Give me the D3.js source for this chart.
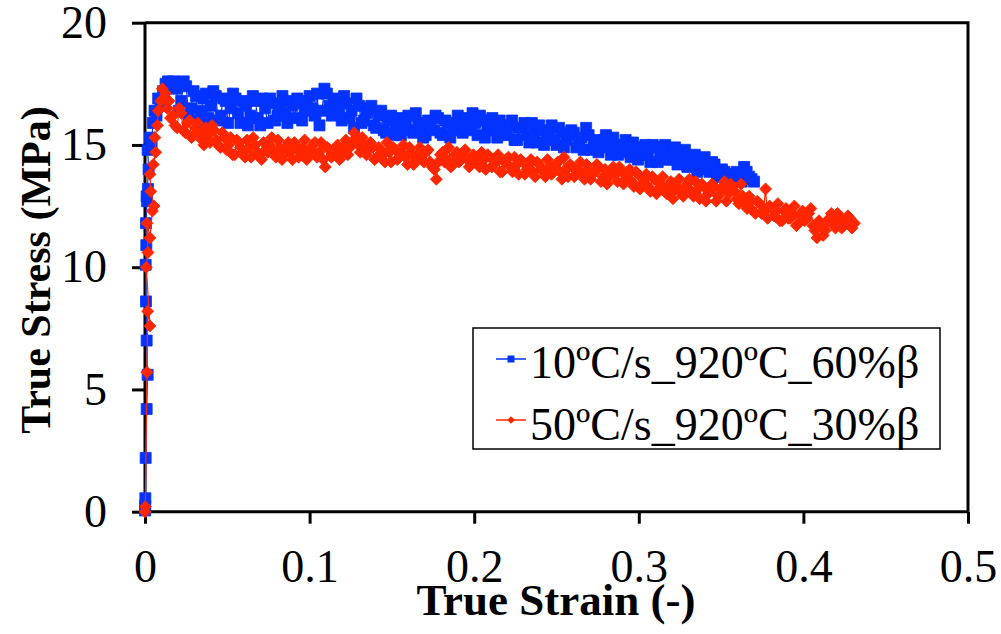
<!DOCTYPE html>
<html>
<head>
<meta charset="utf-8">
<script src="https://cdn.jsdelivr.net/npm/d3@7"></script>
<style>
  body { margin: 0; background: #fff; }
  text { font-family: "Liberation Serif", "Times New Roman", serif; fill: #000; }
</style>
</head>
<body>
<div id="chart"></div>
<script>
// Stress-strain data: [strain, stress MPa]
// elastic rise, kept in recorded order
let blueRise = [
    [0.0000, 0.05], [0.0001, 0.25], [0.0002, 0.55], [0.0004, 2.2], [0.0010, 4.2], [0.0016, 5.6],
    [0.0010, 7.0], [0.0006, 8.6], [0.0004, 10.1], [0.0008, 10.9], [0.0006, 11.8], [0.0012, 12.7],
    [0.0018, 13.2], [0.0010, 12.9], [0.0022, 14.0], [0.0016, 14.8], [0.0030, 15.3], [0.0040, 15.0],
    [0.0048, 15.9], [0.0058, 16.4], [0.0070, 16.2], [0.0080, 16.9], [0.0095, 16.6], [0.0110, 17.2],
    [0.0125, 17.5], [0.0140, 17.6], [0.0155, 17.4], [0.0170, 17.6]
];
let bluePlateau = [
    [0.019, 17.3], [0.022, 16.8], [0.025, 17.4], [0.028, 16.5], [0.031, 17.0], [0.034, 16.4],
    [0.037, 17.1], [0.040, 16.6], [0.043, 17.0], [0.046, 16.2], [0.049, 16.8], [0.052, 16.5],
    [0.055, 16.9], [0.058, 15.9], [0.061, 16.6], [0.064, 16.2], [0.067, 16.8], [0.070, 15.8],
    [0.073, 16.5], [0.076, 16.9], [0.079, 16.0], [0.082, 16.6], [0.085, 16.3], [0.088, 16.8],
    [0.091, 16.1], [0.094, 16.7], [0.097, 16.4], [0.100, 17.0], [0.103, 16.2], [0.106, 15.8],
    [0.109, 17.3], [0.112, 16.6], [0.115, 16.9], [0.118, 16.3], [0.121, 17.0], [0.124, 16.1],
    [0.127, 15.7], [0.130, 16.6], [0.133, 16.0], [0.136, 16.5], [0.139, 15.8], [0.142, 16.2],
    [0.145, 15.6], [0.148, 16.0], [0.151, 15.4], [0.154, 16.1], [0.157, 15.7], [0.160, 16.2],
    [0.163, 15.5], [0.166, 15.9], [0.169, 15.3], [0.172, 16.0], [0.175, 15.6], [0.178, 16.1],
    [0.181, 15.4], [0.184, 15.9], [0.187, 15.6], [0.190, 16.2], [0.193, 15.5], [0.196, 15.9],
    [0.199, 16.3], [0.202, 15.4], [0.205, 16.0], [0.208, 15.6], [0.211, 16.1], [0.214, 15.3],
    [0.217, 15.8], [0.220, 15.5], [0.223, 16.0], [0.226, 15.2], [0.229, 15.7], [0.232, 15.4],
    [0.235, 15.9], [0.238, 15.1], [0.241, 15.6], [0.244, 15.3], [0.247, 15.8], [0.250, 15.0],
    [0.253, 15.5], [0.256, 15.2], [0.259, 15.6], [0.262, 14.9], [0.265, 15.3], [0.268, 15.7],
    [0.271, 14.8], [0.274, 15.2], [0.277, 15.0], [0.280, 15.4], [0.283, 14.6], [0.286, 15.0],
    [0.289, 14.8], [0.292, 15.2], [0.295, 14.5], [0.298, 14.9], [0.301, 14.6], [0.304, 15.0],
    [0.307, 14.3], [0.310, 14.9], [0.313, 14.6], [0.316, 15.0], [0.319, 14.4], [0.322, 14.9],
    [0.325, 14.4], [0.328, 14.8], [0.331, 14.2], [0.334, 14.6], [0.337, 14.2], [0.340, 14.5],
    [0.343, 13.9], [0.346, 14.2], [0.349, 13.7], [0.352, 13.9], [0.355, 13.5], [0.358, 13.8],
    [0.361, 13.6], [0.364, 14.1], [0.367, 13.7], [0.370, 13.5]
];
// in-between readings of the blue band
let blueExtra = [
    [0.0205, 16.4], [0.0235, 17.6], [0.0265, 16.2], [0.0295, 17.2], [0.0325, 16.0], [0.0355, 16.9],
    [0.0385, 16.1], [0.0415, 17.2], [0.0445, 16.0], [0.0475, 16.9], [0.0505, 15.9], [0.0535, 17.1],
    [0.0565, 16.3], [0.0595, 16.8], [0.0625, 15.8], [0.0655, 17.0], [0.0685, 16.1], [0.0715, 16.9],
    [0.0745, 15.9], [0.0775, 16.7], [0.0805, 16.2], [0.0835, 17.0], [0.0865, 15.9], [0.0895, 16.6],
    [0.0925, 16.9], [0.0955, 16.0], [0.0985, 16.8], [0.1015, 16.5], [0.1045, 17.1], [0.1075, 16.4],
    [0.1105, 17.1], [0.1135, 16.2], [0.1165, 16.7], [0.1195, 16.0], [0.1225, 16.7], [0.1255, 16.4],
    [0.1285, 16.9], [0.1315, 15.9], [0.1345, 16.3], [0.1375, 16.6], [0.1405, 15.7], [0.1435, 16.4],
    [0.1465, 15.5], [0.1495, 16.2], [0.1525, 15.8], [0.1555, 15.4], [0.1585, 16.0], [0.1615, 15.6],
    [0.1645, 16.3], [0.1675, 15.7], [0.1705, 15.4], [0.1735, 15.8], [0.1765, 16.2], [0.1795, 15.5],
    [0.1825, 16.0], [0.1855, 15.3], [0.1885, 15.9], [0.1915, 15.7], [0.1945, 16.1], [0.1975, 15.6],
    [0.2005, 15.9], [0.2035, 16.2], [0.2065, 15.3], [0.2095, 15.9], [0.2125, 15.6], [0.2155, 16.0],
    [0.2185, 15.4], [0.2215, 15.8], [0.2245, 15.2], [0.2275, 15.7], [0.2305, 15.9], [0.2335, 15.1],
    [0.2365, 15.5], [0.2395, 15.8], [0.2425, 15.0], [0.2455, 15.5], [0.2485, 15.2], [0.2515, 15.7],
    [0.2545, 14.9], [0.2575, 15.4], [0.2605, 15.5], [0.2635, 15.0], [0.2665, 14.8], [0.2695, 15.4],
    [0.2725, 15.0], [0.2755, 14.7], [0.2785, 15.2], [0.2815, 14.9], [0.2845, 15.3], [0.2875, 14.6],
    [0.2905, 15.0], [0.2935, 14.7], [0.2965, 15.1], [0.2995, 14.4], [0.3025, 14.9], [0.3055, 14.6],
    [0.3085, 15.0], [0.3115, 14.3], [0.3145, 14.7], [0.3175, 14.4], [0.3205, 14.8], [0.3235, 14.2],
    [0.3265, 14.6], [0.3295, 14.1], [0.3325, 14.5], [0.3355, 13.9], [0.3385, 14.3], [0.3415, 14.0],
    [0.3445, 14.3], [0.3475, 13.7], [0.3505, 14.0], [0.3535, 13.8], [0.3565, 13.6], [0.3595, 13.9],
    [0.3625, 13.5], [0.3655, 13.9], [0.3685, 13.6]
];

let redRise = [
    [0.0000, 0.0], [0.0002, 0.2], [0.0012, 5.7], [0.0016, 8.2], [0.0030, 7.6], [0.0008, 10.0],
    [0.0018, 10.6], [0.0012, 11.8], [0.0030, 11.2], [0.0045, 12.3], [0.0055, 12.5], [0.0035, 13.1],
    [0.0030, 13.8], [0.0050, 14.2], [0.0065, 14.7], [0.0060, 15.3], [0.0075, 15.8], [0.0080, 16.4],
    [0.0095, 16.8], [0.0105, 17.3], [0.0115, 16.9], [0.0125, 17.1], [0.0135, 16.5], [0.0145, 16.8],
    [0.0155, 16.1]
];
let redPlateau = [
    [0.0170, 16.2], [0.0195, 15.7], [0.0220, 16.3], [0.0245, 15.5], [0.0270, 16.0], [0.0295, 15.4],
    [0.0320, 15.9], [0.0345, 15.2], [0.0370, 15.7], [0.0395, 15.1], [0.0420, 15.6], [0.0445, 15.0],
    [0.0470, 15.5], [0.0495, 14.8], [0.0520, 15.3], [0.0545, 14.6], [0.0570, 15.1], [0.0595, 14.7],
    [0.0620, 15.2], [0.0645, 14.5], [0.0670, 15.0], [0.0695, 14.6], [0.0720, 15.1], [0.0745, 14.7],
    [0.0770, 15.3], [0.0795, 14.5], [0.0820, 14.9], [0.0845, 14.6], [0.0870, 15.1], [0.0895, 14.4],
    [0.0920, 14.9], [0.0945, 14.7], [0.0970, 15.2], [0.0995, 14.6], [0.1020, 15.0], [0.1045, 14.5],
    [0.1070, 15.1], [0.1095, 14.1], [0.1120, 14.8], [0.1145, 14.6], [0.1170, 15.0], [0.1195, 14.7],
    [0.1220, 15.2], [0.1245, 14.9], [0.1270, 15.5], [0.1295, 15.0], [0.1320, 15.3], [0.1345, 14.6],
    [0.1370, 15.1], [0.1395, 14.4], [0.1420, 14.9], [0.1445, 14.6], [0.1470, 15.1], [0.1495, 14.3],
    [0.1520, 14.8], [0.1545, 14.5], [0.1570, 15.0], [0.1595, 14.2], [0.1620, 14.7], [0.1645, 14.4],
    [0.1670, 14.9], [0.1695, 14.3], [0.1720, 14.8], [0.1745, 14.1], [0.1770, 13.6], [0.1795, 14.6],
    [0.1820, 14.3], [0.1845, 14.9], [0.1870, 14.2], [0.1895, 14.7], [0.1920, 14.4], [0.1945, 14.8],
    [0.1970, 14.1], [0.1995, 14.6], [0.2020, 14.3], [0.2045, 14.7], [0.2070, 14.0], [0.2095, 14.5],
    [0.2120, 14.2], [0.2145, 14.6], [0.2170, 13.9], [0.2195, 14.4], [0.2220, 14.1], [0.2245, 14.5],
    [0.2270, 13.8], [0.2295, 14.3], [0.2320, 14.0], [0.2345, 14.4], [0.2370, 13.7], [0.2395, 14.2],
    [0.2420, 13.9], [0.2445, 14.4], [0.2470, 13.8], [0.2495, 14.2], [0.2520, 13.9], [0.2545, 14.5],
    [0.2570, 13.7], [0.2595, 14.1], [0.2620, 13.8], [0.2645, 14.3], [0.2670, 13.6], [0.2695, 14.0],
    [0.2720, 13.8], [0.2745, 14.2], [0.2770, 13.5], [0.2795, 14.0], [0.2820, 13.7], [0.2845, 14.1],
    [0.2870, 13.5], [0.2895, 13.9], [0.2920, 13.6], [0.2945, 14.0], [0.2970, 13.3], [0.2995, 13.8],
    [0.3020, 13.4], [0.3045, 13.8], [0.3070, 13.1], [0.3095, 13.6], [0.3120, 13.2], [0.3145, 13.7],
    [0.3170, 13.0], [0.3195, 13.5], [0.3220, 13.2], [0.3245, 13.6], [0.3270, 12.9], [0.3295, 13.4],
    [0.3320, 13.1], [0.3345, 13.5], [0.3370, 12.8], [0.3395, 13.3], [0.3420, 13.0], [0.3445, 13.4],
    [0.3470, 12.7], [0.3495, 13.2], [0.3520, 13.5], [0.3545, 13.0], [0.3570, 13.3], [0.3595, 12.8],
    [0.3620, 13.4], [0.3645, 12.6], [0.3670, 12.9], [0.3695, 12.3], [0.3720, 12.7], [0.3745, 12.2],
    [0.3770, 13.2], [0.3795, 12.5], [0.3820, 12.1], [0.3845, 12.6], [0.3870, 11.9], [0.3895, 12.4],
    [0.3920, 12.0], [0.3945, 12.5], [0.3970, 11.8], [0.3995, 12.3], [0.4020, 12.0], [0.4045, 12.4],
    [0.4070, 11.5], [0.4095, 11.9], [0.4120, 11.3], [0.4145, 11.8], [0.4170, 12.2], [0.4195, 11.6],
    [0.4220, 12.0], [0.4245, 11.7], [0.4270, 12.1], [0.4295, 11.6], [0.4310, 11.8]
];
// in-between readings of the red band
let redExtra = [
    [0.01825, 15.8], [0.02075, 16.5], [0.02325, 15.6], [0.02575, 15.9], [0.02825, 15.3], [0.03075, 15.7],
    [0.03325, 15.5], [0.03575, 15.0], [0.03825, 15.4], [0.04075, 15.8], [0.04325, 15.2], [0.04575, 14.9],
    [0.04825, 15.3], [0.05075, 15.0], [0.05325, 14.6], [0.05575, 15.2], [0.05825, 14.9], [0.06075, 14.5],
    [0.06325, 14.9], [0.06575, 15.3], [0.06825, 14.7], [0.07075, 14.4], [0.07325, 14.8], [0.07575, 15.0],
    [0.07825, 14.7], [0.08075, 15.2], [0.08325, 14.4], [0.08575, 14.9], [0.08825, 14.7], [0.09075, 15.1],
    [0.09325, 14.5], [0.09575, 14.9], [0.09825, 14.4], [0.10075, 14.8], [0.10325, 15.1], [0.10575, 14.7],
    [0.10825, 14.4], [0.11075, 14.9], [0.11325, 14.5], [0.11575, 14.8], [0.11825, 14.4], [0.12075, 14.9],
    [0.12325, 14.6], [0.12575, 15.1], [0.12825, 15.3], [0.13075, 14.7], [0.13325, 15.0], [0.13575, 14.8],
    [0.13825, 14.9], [0.14075, 14.5], [0.14325, 14.8], [0.14575, 14.3], [0.14825, 14.7], [0.15075, 14.9],
    [0.15325, 14.4], [0.15575, 14.7], [0.15825, 14.5], [0.16075, 14.9], [0.16325, 14.2], [0.16575, 14.6],
    [0.16825, 14.4], [0.17075, 14.7], [0.17325, 14.3], [0.17575, 14.0], [0.17825, 14.3], [0.18075, 14.7],
    [0.18325, 14.4], [0.18575, 14.1], [0.18825, 14.6], [0.19075, 14.3], [0.19325, 14.6], [0.19575, 14.4],
    [0.19825, 14.2], [0.20075, 14.5], [0.20325, 14.1], [0.20575, 14.4], [0.20825, 14.6], [0.21075, 14.1],
    [0.21325, 14.4], [0.21575, 13.9], [0.21825, 14.3], [0.22075, 14.5], [0.22325, 13.9], [0.22575, 14.2],
    [0.22825, 14.4], [0.23075, 13.8], [0.23325, 14.2], [0.23575, 13.9], [0.23825, 14.3], [0.24075, 14.0],
    [0.24325, 13.7], [0.24575, 14.1], [0.24825, 13.9], [0.25075, 14.3], [0.25325, 13.6], [0.25575, 14.0],
    [0.25825, 14.2], [0.26075, 13.7], [0.26325, 14.0], [0.26575, 13.8], [0.26825, 14.2], [0.27075, 13.6],
    [0.27325, 13.9], [0.27575, 14.1], [0.27825, 13.7], [0.28075, 13.4], [0.28325, 13.9], [0.28575, 13.8],
    [0.28825, 14.1], [0.29075, 13.4], [0.29325, 13.8], [0.29575, 13.5], [0.29825, 13.9], [0.30075, 13.2],
    [0.30325, 13.6], [0.30575, 13.3], [0.30825, 13.7], [0.31075, 13.0], [0.31325, 13.4], [0.31575, 13.1],
    [0.31825, 13.3], [0.32075, 12.8], [0.32325, 13.3], [0.32575, 13.0], [0.32825, 13.2], [0.33075, 13.6],
    [0.33325, 12.9], [0.33575, 13.2], [0.33825, 13.4], [0.34075, 12.7], [0.34325, 13.1], [0.34575, 13.3],
    [0.34825, 12.9], [0.35075, 13.2], [0.35325, 12.7], [0.35575, 13.4], [0.35825, 13.1], [0.36075, 12.6],
    [0.36325, 12.9], [0.36575, 12.4], [0.36825, 12.7], [0.37075, 12.2], [0.37325, 12.6], [0.37575, 12.3],
    [0.37825, 12.0], [0.38075, 12.4], [0.38325, 12.3], [0.38575, 11.9], [0.38825, 12.3], [0.39075, 12.0],
    [0.39325, 12.2], [0.39575, 11.7], [0.39825, 12.1], [0.40075, 11.9], [0.40325, 12.2], [0.40575, 11.7],
    [0.40825, 11.2], [0.41075, 11.7], [0.41325, 11.5], [0.41575, 12.0], [0.41825, 11.8], [0.42075, 12.2],
    [0.42325, 11.6], [0.42575, 11.9], [0.42825, 12.0]
];

let seriesNames = ["10ºC/s_920ºC_60%β", "50ºC/s_920ºC_30%β"];
let seriesColors = ["#0433FF", "#FF2600"];
let xTicks = [0, 0.1, 0.2, 0.3, 0.4, 0.5];
let yTicks = [0, 5, 10, 15, 20];

// merge the plateau readings in strain order, after the rise
let byStrain = (a, b) => a[0] - b[0];
let blueSeries = blueRise.concat(bluePlateau.concat(blueExtra).sort(byStrain));
let redSeries = redRise.concat(redPlateau.concat(redExtra).sort(byStrain));

let svgWidth = 1001;
let svgHeight = 634;

// plot frame in page pixels
let margin = { top: 22.7, right: 33, bottom: 122.3, left: 145 };
let chartWidth = svgWidth - margin.left - margin.right;
let chartHeight = svgHeight - margin.top - margin.bottom;

let svg = d3.select("#chart")
    .append("svg")
    .attr("width", svgWidth)
    .attr("height", svgHeight);

let chartGroup = svg.append("g")
    .attr("transform", `translate(${margin.left}, ${margin.top})`);

let xScale = d3.scaleLinear().domain([0, 0.5]).range([0, chartWidth]);
let yScale = d3.scaleLinear().domain([0, 20]).range([chartHeight, 0]);

// top and right border
chartGroup.append("path")
    .attr("d", `M0,0H${chartWidth}V${chartHeight}`)
    .attr("fill", "none")
    .attr("stroke", "#000")
    .attr("stroke-width", 3);

// Axes
let leftAxis = d3.axisLeft(yScale)
    .tickValues(yTicks)
    .tickSize(13)
    .tickPadding(25)
    .tickFormat(d3.format("d"));

let bottomAxis = d3.axisBottom(xScale)
    .tickValues(xTicks)
    .tickSize(12)
    .tickPadding(26)
    .tickFormat(d => d === 0 ? "0" : d3.format(".1f")(d));

let yAxis = chartGroup.append("g").call(leftAxis);
let xAxis = chartGroup.append("g")
    .attr("transform", `translate(0, ${chartHeight})`)
    .call(bottomAxis);

[xAxis, yAxis].forEach(function (ax) {
    ax.select(".domain").attr("stroke", "#000").attr("stroke-width", 3);
    ax.selectAll(".tick line").attr("stroke", "#000").attr("stroke-width", 3);
    ax.selectAll(".tick text")
        .attr("font-family", "Liberation Serif, Times New Roman, serif")
        .attr("font-size", "46px")
        .attr("fill", "#000");
});
yAxis.select(".domain").attr("d", `M0,${chartHeight}V0`);
xAxis.select(".domain").attr("d", `M0,0H${chartWidth}`);

// Series
let line = d3.line()
    .x(d => xScale(d[0]))
    .y(d => yScale(d[1]));

let squareSym = d3.symbol().type(d3.symbolSquare).size(121);
let diamondSym = d3.symbol().type(d3.symbolSquare).size(72);

function drawSeries(data, color, sym, rotate) {
    let g = chartGroup.append("g");
    g.append("path")
        .datum(data)
        .attr("d", line)
        .attr("fill", "none")
        .attr("stroke", color)
        .attr("stroke-width", 1.2);
    g.selectAll("path.pt")
        .data(data)
        .enter()
        .append("path")
        .attr("class", "pt")
        .attr("d", sym)
        .attr("transform", d => `translate(${xScale(d[0])},${yScale(d[1])}) rotate(${rotate})`)
        .attr("fill", color)
        .attr("stroke", color)
        .attr("stroke-width", 0.8);
}

drawSeries(blueSeries, seriesColors[0], squareSym, 0);
drawSeries(redSeries, seriesColors[1], diamondSym, 45);

// Axis titles
svg.append("text")
    .attr("x", 556)
    .attr("y", 615)
    .attr("text-anchor", "middle")
    .attr("font-weight", "bold")
    .attr("font-size", "45px")
    .text("True Strain (-)");

svg.append("text")
    .attr("transform", "translate(50, 270) rotate(-90)")
    .attr("text-anchor", "middle")
    .attr("font-weight", "bold")
    .attr("font-size", "42px")
    .text("True Stress (MPa)");

// Legend
let legend = svg.append("g").attr("transform", "translate(473, 328)");
legend.append("rect")
    .attr("width", 467)
    .attr("height", 121)
    .attr("fill", "#fff")
    .attr("stroke", "#000")
    .attr("stroke-width", 1.5);

let legendSyms = [d3.symbol().type(d3.symbolSquare).size(49), d3.symbol().type(d3.symbolSquare).size(30)];
let legendRot = [0, 45];
seriesNames.forEach(function (name, i) {
    let cy = 31 + i * 61;
    legend.append("line")
        .attr("x1", 23).attr("x2", 53)
        .attr("y1", cy).attr("y2", cy)
        .attr("stroke", seriesColors[i])
        .attr("stroke-width", 1.5);
    legend.append("path")
        .attr("d", legendSyms[i]())
        .attr("transform", `translate(38,${cy}) rotate(${legendRot[i]})`)
        .attr("fill", seriesColors[i]);
    legend.append("text")
        .attr("x", 57)
        .attr("y", 50 + i * 62)
        .attr("font-size", "46px")
        .text(name);
});
</script>
</body>
</html>
